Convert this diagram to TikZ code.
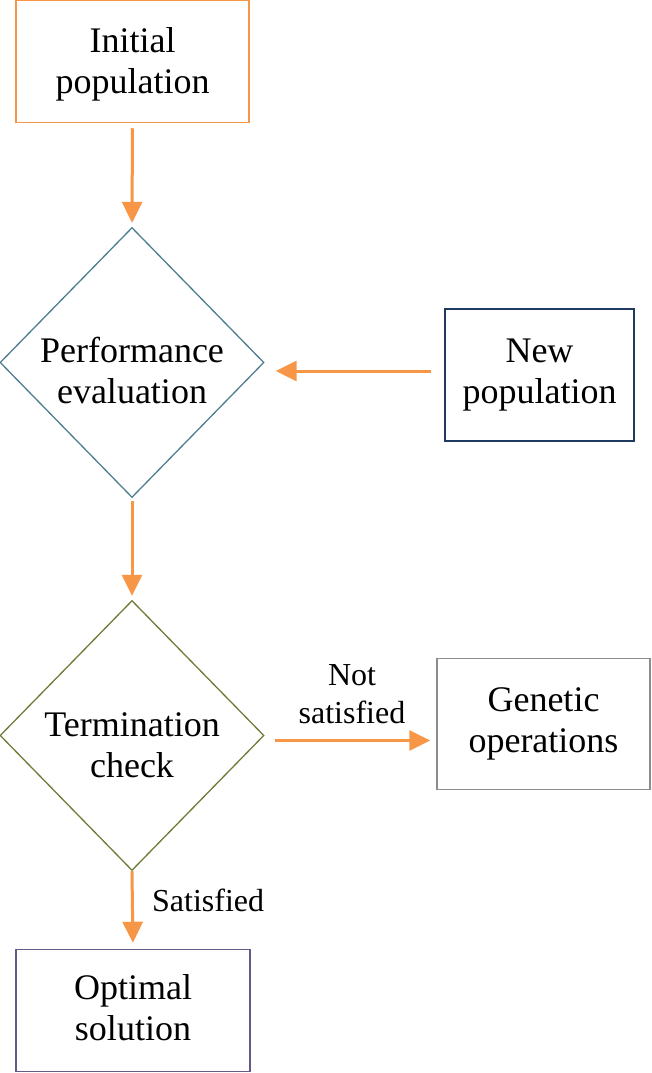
\documentclass[tikz,border=0pt]{standalone}
\usepackage{fontspec}
\setmainfont{Liberation Serif}
\usetikzlibrary{shapes.geometric,arrows.meta,calc}
\definecolor{arrorange}{HTML}{F79646}
\definecolor{tealc}{HTML}{4C7F8E}
\definecolor{olivec}{HTML}{707A36}
\definecolor{navyc}{HTML}{1F3A5F}
\definecolor{greyc}{HTML}{8C8C8C}
\definecolor{purplec}{HTML}{67588A}
\tikzset{
  boxnode/.style={draw, line width=1.5pt, minimum width=#1, inner sep=0pt, align=center,
    font=\fontsize{36}{41}\selectfont},
  dia/.style={diamond, draw, line width=1.3pt, minimum width=264pt, minimum height=270pt, inner sep=0pt},
  txt/.style={align=center, inner sep=0pt, font=\fontsize{36}{41}\selectfont},
  lbl/.style={align=center, inner sep=0pt, font=\fontsize{32}{38}\selectfont},
  arr/.style={draw=arrorange, line width=3pt, -{Triangle[width=20pt,length=21pt]}}
}
\begin{document}
\begin{tikzpicture}[x=1pt,y=-1pt]
\useasboundingbox (0,0) rectangle (651,1073);
% nodes
\node[boxnode=233pt, draw=arrorange, minimum height=122pt] (ip) at (132.5,61.5) {};
\node[txt] (ipt) at (132.5,64) {Initial\\population};
\node[dia, draw=tealc] (pe) at (132,362.5) {};
\node[txt] (pet) at (132,370) {Performance\\evaluation};
\node[boxnode=189pt, draw=navyc, minimum height=132pt] (np) at (539.5,375) {New\\population};
\node[dia, draw=olivec] (tc) at (132,735.5) {};
\node[txt] (tct) at (132,745) {Termination\\check};
\node[boxnode=213pt, draw=greyc, minimum height=131pt] (go) at (543.5,724) {Genetic\\operations};
\node[boxnode=234pt, draw=purplec, minimum height=122pt] (os) at (133,1010.5) {};
\node[txt] (ost) at (133,1008) {Optimal\\solution};
% labels
\node[lbl] (ns) at (352,694) {Not\\satisfied};
\node[lbl, anchor=base west] (sa) at (152,911) {Satisfied};
% connectors
\draw[arr, shorten <=5pt, shorten >=4pt] (ip.south) -- (pe.north);
\draw[arr, shorten <=13pt, shorten >=11pt] ([yshift=4pt]np.west) -- ([yshift=4pt]np.west -| pe.east);
\draw[arr, shorten <=3pt, shorten >=4pt] (pe.south) -- (tc.north);
\draw[arr, shorten <=10pt, shorten >=6pt] ([yshift=-5pt]tc.east) -- ([yshift=-5pt]tc.east -| go.west);
\draw[arr, shorten <=0pt, shorten >=6pt] (tc.south) -- (os.north);
\end{tikzpicture}
\end{document}
